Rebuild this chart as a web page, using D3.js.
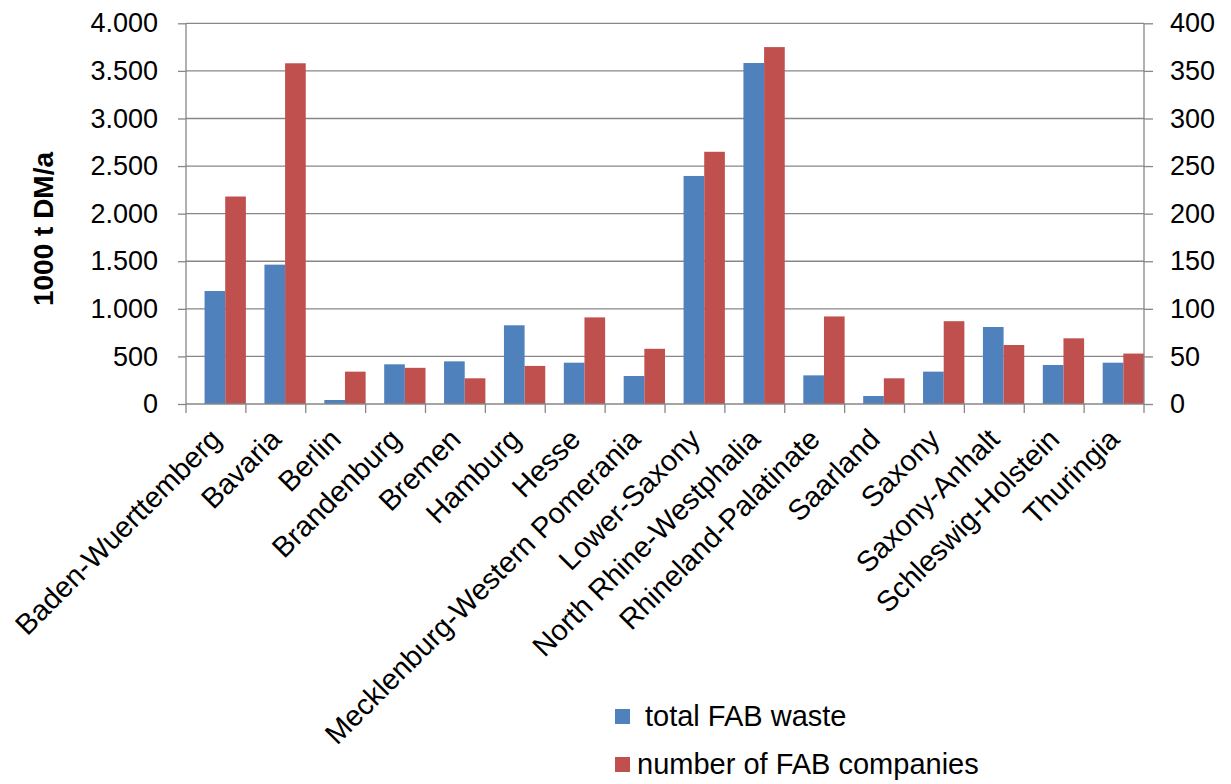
<!DOCTYPE html>
<html>
<head>
<meta charset="utf-8">
<script src="https://cdn.jsdelivr.net/npm/d3@7"></script>
<style>
  html, body { margin: 0; padding: 0; background: #fff; }
  svg { display: block; font-family: "Liberation Sans", Arial, Helvetica, sans-serif; }
</style>
</head>
<body>
<svg id="chart" width="1231" height="784"></svg>
<script>
const categories = ["Baden-Wuerttemberg","Bavaria","Berlin","Brandenburg","Bremen","Hamburg","Hesse","Mecklenburg-Western Pomerania","Lower-Saxony","North Rhine-Westphalia","Rhineland-Palatinate","Saarland","Saxony","Saxony-Anhalt","Schleswig-Holstein","Thuringia"];
const wasteValues = [1187,1464,42,417,448,827,434,294,2396,3583,301,84,340,809,410,434];
const companyValues = [218,358,34,38,27,40,91,58,265,375,92,27,87,62,69,53];
const leftTicks = [0,500,1000,1500,2000,2500,3000,3500,4000];
const rightTicks = [0,50,100,150,200,250,300,350,400];
const seriesNames = ["total FAB waste","number of FAB companies"];
const seriesColors = ["#4F81BD","#C0504D"];

const svg = d3.select("#chart");
const m = {left: 186, right: 1144, top: 23.3, bottom: 404};
const gridColor = "#878787";
const tickFont = 27;
const labelFont = 29;

const x = d3.scaleBand().domain(categories).range([m.left, m.right]).paddingInner(0).paddingOuter(0);
const bw = x.bandwidth();
const xs = d3.scaleBand().domain([0,1]).range([bw*0.31, bw]);
const yL = d3.scaleLinear().domain([0,4000]).range([m.bottom, m.top]);
const yR = d3.scaleLinear().domain([0,400]).range([m.bottom, m.top]);

const fmtL = d => d3.format(",")(d).replace(/,/g, ".");

// gridlines
svg.append("g").selectAll("line").data(leftTicks.filter(d => d > 0)).join("line")
  .attr("x1", m.left).attr("x2", m.right)
  .attr("y1", d => yL(d)).attr("y2", d => yL(d))
  .attr("stroke", gridColor).attr("stroke-width", 1.3);

// bars
const bars = svg.append("g");
bars.selectAll("rect.w").data(categories).join("rect").attr("class","w")
  .attr("x", (d) => x(d) + xs(0)).attr("width", xs.bandwidth())
  .attr("y", (d,i) => yL(wasteValues[i])).attr("height", (d,i) => m.bottom - yL(wasteValues[i]))
  .attr("fill", seriesColors[0]);
bars.selectAll("rect.c").data(categories).join("rect").attr("class","c")
  .attr("x", (d) => x(d) + xs(1)).attr("width", xs.bandwidth())
  .attr("y", (d,i) => yR(companyValues[i])).attr("height", (d,i) => m.bottom - yR(companyValues[i]))
  .attr("fill", seriesColors[1]);

// left axis
const axL = svg.append("g").attr("transform", `translate(${m.left},0)`)
  .call(d3.axisLeft(yL).tickValues(leftTicks).tickFormat(fmtL).tickSize(8).tickPadding(20));
// right axis
const axR = svg.append("g").attr("transform", `translate(${m.right},0)`)
  .call(d3.axisRight(yR).tickValues(rightTicks).tickSize(9).tickPadding(17));
// bottom axis
const axB = svg.append("g").attr("transform", `translate(0,${m.bottom})`)
  .call(d3.axisBottom(x).tickValues([]).tickSizeOuter(0));
// category boundary ticks
svg.append("g").selectAll("line").data(categories).join("line")
  .attr("x1", d => x(d) + bw).attr("x2", d => x(d) + bw)
  .attr("y1", m.bottom).attr("y2", m.bottom + 9)
  .attr("stroke", gridColor).attr("stroke-width", 1.3);
svg.append("line").attr("x1", m.left).attr("x2", m.left).attr("y1", m.bottom).attr("y2", m.bottom + 9)
  .attr("stroke", gridColor).attr("stroke-width", 1.3);

[axL, axR, axB].forEach(a => {
  a.select(".domain").attr("stroke", gridColor).attr("stroke-width", 1.3);
  a.selectAll(".tick line").attr("stroke", gridColor).attr("stroke-width", 1.3);
  a.selectAll(".tick text").attr("fill", "#000").style("font-size", tickFont + "px")
    .style("font-family", '"Liberation Sans", Arial, sans-serif');
});
axL.select(".domain").attr("d", `M0,${m.top}V${m.bottom}`);
axR.select(".domain").attr("d", `M0,${m.top}V${m.bottom}`);
axB.select(".domain").attr("d", `M${m.left},0H${m.right}`);

// category labels
svg.append("g").selectAll("text").data(categories).join("text")
  .attr("transform", d => `translate(${x(d) + bw/2 + 7},${m.bottom + 37}) rotate(-45)`)
  .attr("text-anchor", "end")
  .style("font-size", labelFont + "px")
  .attr("fill", "#000")
  .text(d => d);

// y axis title
svg.append("text")
  .attr("transform", `translate(53,229) rotate(-90)`)
  .attr("text-anchor", "middle")
  .style("font-size", "28px").style("font-weight", "bold")
  .text("1000 t DM/a");

// legend
const legend = svg.append("g");
const legendRows = [
  {sx: 615, sy: 709, tx: 645, ty: 726},
  {sx: 615, sy: 757, tx: 637, ty: 774}
];
seriesNames.forEach((name, i) => {
  const r = legendRows[i];
  legend.append("rect").attr("x", r.sx).attr("y", r.sy).attr("width", 15).attr("height", 15).attr("fill", seriesColors[i]);
  legend.append("text").attr("x", r.tx).attr("y", r.ty).style("font-size", labelFont + "px").text(name);
});
</script>
</body>
</html>
